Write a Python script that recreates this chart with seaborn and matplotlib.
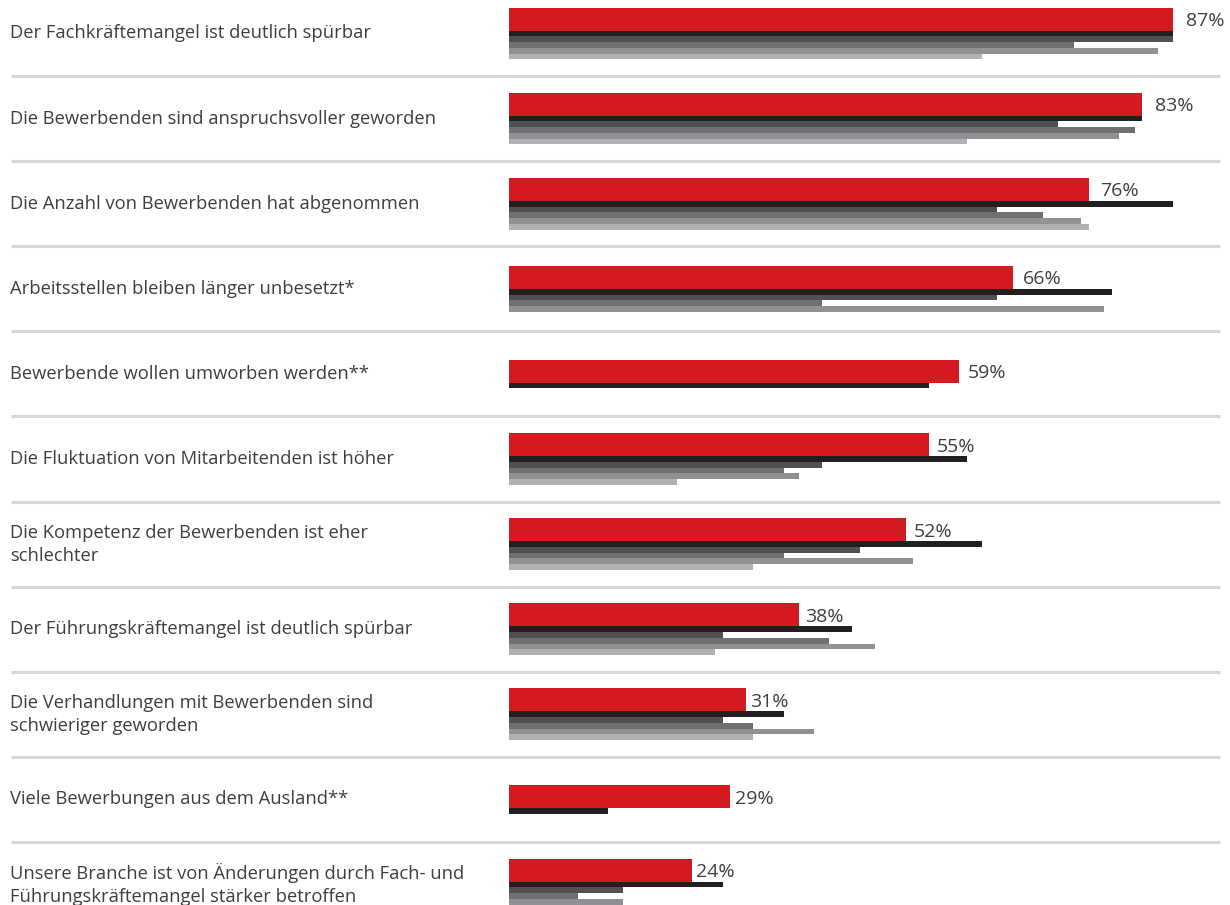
import numpy as np
import pandas as pd
import matplotlib
matplotlib.use("Agg")
import matplotlib.pyplot as plt
import seaborn as sns

# --- data -------------------------------------------------------------------
statements = [
    "Der Fachkräftemangel ist deutlich spürbar",
    "Die Bewerbenden sind anspruchsvoller geworden",
    "Die Anzahl von Bewerbenden hat abgenommen",
    "Arbeitsstellen bleiben länger unbesetzt*",
    "Bewerbende wollen umworben werden**",
    "Die Fluktuation von Mitarbeitenden ist höher",
    "Die Kompetenz der Bewerbenden ist eher\nschlechter",
    "Der Führungskräftemangel ist deutlich spürbar",
    "Die Verhandlungen mit Bewerbenden sind\nschwieriger geworden",
    "Viele Bewerbungen aus dem Ausland**",
    "Unsere Branche ist von Änderungen durch Fach- und\nFührungskräftemangel stärker betroffen",
]
nan = np.nan
current = [87, 83, 76, 66, 59, 55, 52, 38, 31, 29, 24]
prev_1 = [87, 83, 87, 79, 55, 60, 62, 45, 36, 13, 28]
prev_2 = [87, 72, 64, 64, nan, 41, 46, 28, 28, nan, 15]
prev_3 = [74, 82, 70, 41, nan, 36, 36, 42, 32, nan, 9]
prev_4 = [85, 80, 75, 78, nan, 38, 53, 48, 40, nan, 15]
prev_5 = [62, 60, 76, nan, nan, 22, 32, 27, 32, nan, 3]

previous = [prev_1, prev_2, prev_3, prev_4, prev_5]

# --- style ------------------------------------------------------------------
RED = "#d51920"
GREYS = ["#231f20", "#505052", "#707073", "#919195", "#b1b1b4"]
TEXT = "#3f3f3f"
RULE = "#d7d8d8"

sns.set_theme(style="white")
plt.rcParams["font.family"] = ["Open Sans", "DejaVu Sans"]

W, H = 1230, 905
X0_PX, PX_PER_PCT = 509, 7.63
ROW_PX, FIRST_ROW_PX = 85.1, 33.5
RED_H = 23 / ROW_PX
THIN_H = 5.75 / ROW_PX

fig = plt.figure(figsize=(W / 100, H / 100), dpi=100)
ax = fig.add_axes([0, 0, 1, 1])

df = pd.DataFrame({"statement": statements, "current": current})
for k, s in enumerate(previous):
    df[f"prev_{k + 1}"] = s

n_rows = len(statements)
n_bars = 1 + df[[f"prev_{k + 1}" for k in range(len(previous))]].notna().sum(axis=1).to_numpy()
group_top = np.arange(n_rows) - (RED_H + (n_bars - 1) * THIN_H) / 2


def draw_series(col, color, height, offset):
    before = len(ax.patches)
    sns.barplot(data=df, x=col, y="statement", order=statements, orient="h",
                color=color, width=height, saturation=1, linewidth=0,
                errorbar=None, ax=ax)
    for p in ax.patches[before:]:
        row = int(round(p.get_y() + p.get_height() / 2))
        p.set_y(group_top[row] + offset)


draw_series("current", RED, RED_H, 0.0)
for k in range(len(previous)):
    draw_series(f"prev_{k + 1}", GREYS[k], THIN_H, RED_H + k * THIN_H)

# value labels next to the red bars
for i, v in enumerate(current):
    ax.text(v * 1.02, group_top[i] + RED_H / 2, f"{v}%", ha="left",
            va="center_baseline", fontsize=14, color=TEXT)

# statement labels and separators
x_left = (10 - X0_PX) / PX_PER_PCT
for i, s in enumerate(statements):
    ax.text(x_left, i, s, ha="left", va="center", fontsize=13.2,
            color=TEXT, linespacing=1.36)
ax.hlines(np.arange(n_rows - 1) + 0.5, (11 - X0_PX) / PX_PER_PCT,
          (1220 - X0_PX) / PX_PER_PCT, color=RULE, linewidth=2.2)

ax.set_xlim(-X0_PX / PX_PER_PCT, (W - X0_PX) / PX_PER_PCT)
ax.set_ylim((H - FIRST_ROW_PX) / ROW_PX, -FIRST_ROW_PX / ROW_PX)
ax.axis("off")

fig.savefig("out.png", dpi=100)
